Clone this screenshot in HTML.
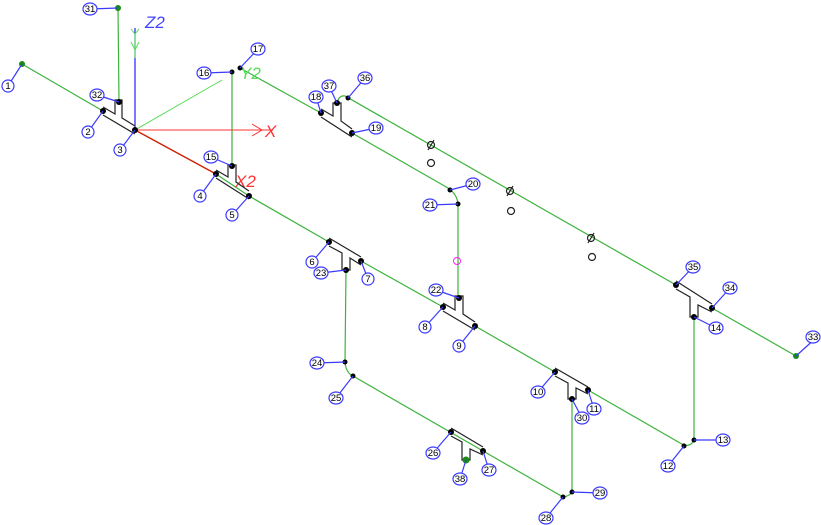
<!DOCTYPE html>
<html><head><meta charset="utf-8"><style>
html,body{margin:0;padding:0;background:#fff;}
svg{display:block;font-family:"Liberation Sans",sans-serif;}
.g{stroke:#3cb33c;stroke-width:1.2;fill:none}
.k{stroke:#222;stroke-width:1.2;fill:none}
.b{stroke:#3a3aff;stroke-width:1.2}
.n{fill:#000}
.lb ellipse{fill:#fff;stroke:#3a3aff;stroke-width:1.2}
.lb text{font-size:9.5px;fill:#000;text-anchor:middle}
</style></head><body>
<svg width="821" height="525" viewBox="0 0 821 525" xmlns="http://www.w3.org/2000/svg">
<polyline class="g" points="22,64 103,111"/>
<polyline class="g" points="216,174 249,196 329,242"/>
<polyline class="g" points="361,261 443,307"/>
<polyline class="g" points="475,326 555,372"/>
<polyline class="g" points="588,390 680,443"/>
<path class="g" d="M680,443 Q690,449 694,440 L694,317"/>
<polyline class="g" points="240,68 321,113"/>
<polyline class="g" points="352,133 448,188"/>
<path class="g" d="M448,188 Q457,194 458,204 L458,298"/>
<path class="g" d="M337,103 Q339,95 345,96 L676,285"/>
<polyline class="g" points="712,308 796,356"/>
<line class="g" x1="118" y1="8" x2="119" y2="102"/>
<line class="g" x1="232" y1="72" x2="232" y2="166"/>
<path class="g" d="M346,270 L345,362 Q346,373 353,376 L563,497"/>
<path class="g" d="M563,497 Q570,496 572,492 L572,399"/>
<line x1="135" y1="130" x2="222" y2="80" stroke="#55dd55" stroke-width="1"/>
<line x1="135" y1="130" x2="135" y2="28" stroke="#2222ff" stroke-width="1.2"/>
<polyline points="131,42 135,50 139,42" stroke="#55dd55" fill="none"/>
<polyline points="131,29 135,34 139,29" stroke="#55dd55" fill="none"/>
<line x1="135" y1="34" x2="135" y2="58" stroke="#55dd55"/>
<line x1="135" y1="130" x2="273" y2="130" stroke="#ff3333" stroke-width="1"/>
<polyline points="252,124 262,130 252,136" stroke="#ff3333" fill="none"/>
<line x1="135" y1="130" x2="216" y2="174" stroke="#cc2200" stroke-width="1.4"/>
<text x="145" y="28" font-size="17" fill="#4444ff" font-style="italic">Z2</text>
<text x="265" y="137" font-size="17" fill="#ff3333" font-style="italic">X</text>
<text x="235" y="187" font-size="17" fill="#ff3333" font-style="italic">X2</text>
<text x="240" y="79" font-size="17" fill="#55dd55" font-style="italic">Y2</text>
<path class="k" d="M103,115 L135,134 M103,107 L115,114 L115,100 L122,100 L122,118 L135,126"/>
<path class="k" d="M216,178 L249,199 M216,170 L228,177 L228,165 L236,165 L236,182 L249,191"/>
<path class="k" d="M329,238 L361,257 M329,246 L342,253 L342,270 L350,270 L350,258 L361,265"/>
<path class="k" d="M443,311 L475,330 M443,303 L455,310 L455,296 L463,296 L463,314 L475,322"/>
<path class="k" d="M555,368 L588,387 M555,376 L568,383 L568,399 L576,399 L576,388 L588,394"/>
<path class="k" d="M451,428 L483,447 M451,436 L462,442 L462,460 L470,460 L470,449 L483,455"/>
<path class="k" d="M676,281 L712,304 M676,289 L690,297 L690,317 L698,317 L698,305 L712,312"/>
<path class="k" d="M321,117 L352,137 M321,109 L333,116 L333,103 L341,103 L341,121 L352,129"/>
<g class="k">
<circle cx="431" cy="145" r="3.5"/><circle cx="431" cy="163" r="3.5"/>
<circle cx="510" cy="191" r="3.5"/><circle cx="511" cy="211" r="3.5"/>
<circle cx="591" cy="238" r="3.5"/><circle cx="592" cy="257" r="3.5"/>
<line x1="428" y1="150" x2="434" y2="140"/><line x1="507" y1="196" x2="513" y2="186"/><line x1="588" y1="243" x2="594" y2="233"/>
</g>
<circle cx="457" cy="261" r="3.5" fill="none" stroke="#ff22ff"/>
<g class="n">
<circle cx="103" cy="111" r="3"/><circle cx="135" cy="130" r="3"/><circle cx="119" cy="102" r="3"/>
<circle cx="216" cy="174" r="3"/><circle cx="249" cy="196" r="3"/><circle cx="232" cy="166" r="3"/>
<circle cx="232" cy="72" r="2.5"/><circle cx="240" cy="68" r="2.5"/>
<circle cx="321" cy="113" r="3"/><circle cx="352" cy="133" r="3"/><circle cx="337" cy="103" r="3"/><circle cx="348" cy="98" r="2.5"/>
<circle cx="450" cy="190" r="2.5"/><circle cx="458" cy="204" r="2.5"/>
<circle cx="329" cy="242" r="3"/><circle cx="361" cy="261" r="3"/><circle cx="346" cy="270" r="3"/>
<circle cx="443" cy="307" r="3"/><circle cx="475" cy="326" r="3"/><circle cx="459" cy="298" r="3"/>
<circle cx="345" cy="362" r="2.5"/><circle cx="353" cy="376" r="2.5"/>
<circle cx="555" cy="372" r="3"/><circle cx="588" cy="390" r="3"/><circle cx="572" cy="399" r="3"/>
<circle cx="451" cy="432" r="3"/><circle cx="483" cy="451" r="3"/>
<circle cx="563" cy="497" r="2.5"/><circle cx="572" cy="492" r="2.5"/>
<circle cx="684" cy="446" r="2.5"/><circle cx="694" cy="440" r="2.5"/>
<circle cx="676" cy="285" r="3"/><circle cx="712" cy="308" r="3"/><circle cx="694" cy="317" r="3"/>
</g>
<g fill="#1a8a1a"><circle cx="466" cy="460" r="3.5"/><circle cx="22" cy="64" r="3"/><circle cx="118" cy="8" r="3"/><circle cx="796" cy="356" r="3"/></g>
<g class="b">
<line x1="22" y1="64" x2="8" y2="86"/><line x1="118" y1="8" x2="90" y2="9"/><line x1="119" y1="102" x2="97" y2="95"/>
<line x1="103" y1="111" x2="88" y2="132"/><line x1="135" y1="130" x2="120" y2="150"/><line x1="232" y1="72" x2="204" y2="73"/>
<line x1="240" y1="68" x2="258" y2="49"/><line x1="232" y1="166" x2="211" y2="157"/><line x1="216" y1="174" x2="200" y2="196"/>
<line x1="249" y1="196" x2="232" y2="215"/><line x1="337" y1="103" x2="329" y2="86"/><line x1="348" y1="98" x2="365" y2="78"/>
<line x1="321" y1="113" x2="316" y2="97"/><line x1="352" y1="133" x2="376" y2="128"/><line x1="450" y1="190" x2="473" y2="184"/>
<line x1="458" y1="204" x2="430" y2="205"/><line x1="329" y1="242" x2="312" y2="262"/><line x1="346" y1="270" x2="321" y2="273"/>
<line x1="361" y1="261" x2="368" y2="279"/><line x1="459" y1="298" x2="436" y2="290"/><line x1="443" y1="307" x2="425" y2="327"/>
<line x1="475" y1="326" x2="459" y2="346"/><line x1="345" y1="362" x2="317" y2="363"/><line x1="353" y1="376" x2="336" y2="398"/>
<line x1="555" y1="372" x2="538" y2="392"/><line x1="588" y1="390" x2="594" y2="409"/><line x1="572" y1="399" x2="582" y2="418"/>
<line x1="451" y1="432" x2="433" y2="453"/><line x1="483" y1="451" x2="489" y2="470"/><line x1="466" y1="460" x2="460" y2="479"/>
<line x1="563" y1="497" x2="546" y2="518"/><line x1="572" y1="492" x2="600" y2="493"/><line x1="684" y1="446" x2="668" y2="466"/>
<line x1="694" y1="440" x2="723" y2="440"/><line x1="694" y1="317" x2="716" y2="328"/><line x1="712" y1="308" x2="730" y2="288"/>
<line x1="676" y1="285" x2="693" y2="267"/><line x1="796" y1="356" x2="817" y2="337"/>
</g>
<g class="lb">
<g><ellipse cx="8" cy="86" rx="6" ry="6"/><text x="8" y="89">1</text></g>
<g><ellipse cx="90" cy="9" rx="7" ry="6"/><text x="90" y="12">31</text></g>
<g><ellipse cx="97" cy="95" rx="7" ry="6"/><text x="97" y="98">32</text></g>
<g><ellipse cx="88" cy="132" rx="6" ry="6"/><text x="88" y="135">2</text></g>
<g><ellipse cx="120" cy="150" rx="6" ry="6"/><text x="120" y="153">3</text></g>
<g><ellipse cx="204" cy="73" rx="7" ry="6"/><text x="204" y="76">16</text></g>
<g><ellipse cx="258" cy="49" rx="7" ry="6"/><text x="258" y="52">17</text></g>
<g><ellipse cx="211" cy="157" rx="7" ry="6"/><text x="211" y="160">15</text></g>
<g><ellipse cx="200" cy="196" rx="6" ry="6"/><text x="200" y="199">4</text></g>
<g><ellipse cx="232" cy="215" rx="6" ry="6"/><text x="232" y="218">5</text></g>
<g><ellipse cx="329" cy="86" rx="7" ry="6"/><text x="329" y="89">37</text></g>
<g><ellipse cx="365" cy="78" rx="7" ry="6"/><text x="365" y="81">36</text></g>
<g><ellipse cx="316" cy="97" rx="7" ry="6"/><text x="316" y="100">18</text></g>
<g><ellipse cx="376" cy="128" rx="7" ry="6"/><text x="376" y="131">19</text></g>
<g><ellipse cx="473" cy="184" rx="7" ry="6"/><text x="473" y="187">20</text></g>
<g><ellipse cx="430" cy="205" rx="7" ry="6"/><text x="430" y="208">21</text></g>
<g><ellipse cx="312" cy="262" rx="6" ry="6"/><text x="312" y="265">6</text></g>
<g><ellipse cx="321" cy="273" rx="7" ry="6"/><text x="321" y="276">23</text></g>
<g><ellipse cx="368" cy="279" rx="6" ry="6"/><text x="368" y="282">7</text></g>
<g><ellipse cx="436" cy="290" rx="7" ry="6"/><text x="436" y="293">22</text></g>
<g><ellipse cx="425" cy="327" rx="6" ry="6"/><text x="425" y="330">8</text></g>
<g><ellipse cx="459" cy="346" rx="6" ry="6"/><text x="459" y="349">9</text></g>
<g><ellipse cx="317" cy="363" rx="7" ry="6"/><text x="317" y="366">24</text></g>
<g><ellipse cx="336" cy="398" rx="7" ry="6"/><text x="336" y="401">25</text></g>
<g><ellipse cx="538" cy="392" rx="7" ry="6"/><text x="538" y="395">10</text></g>
<g><ellipse cx="594" cy="409" rx="7" ry="6"/><text x="594" y="412">11</text></g>
<g><ellipse cx="582" cy="418" rx="7" ry="6"/><text x="582" y="421">30</text></g>
<g><ellipse cx="433" cy="453" rx="7" ry="6"/><text x="433" y="456">26</text></g>
<g><ellipse cx="489" cy="470" rx="7" ry="6"/><text x="489" y="473">27</text></g>
<g><ellipse cx="460" cy="479" rx="7" ry="6"/><text x="460" y="482">38</text></g>
<g><ellipse cx="546" cy="518" rx="7" ry="6"/><text x="546" y="521">28</text></g>
<g><ellipse cx="600" cy="493" rx="7" ry="6"/><text x="600" y="496">29</text></g>
<g><ellipse cx="668" cy="466" rx="7" ry="6"/><text x="668" y="469">12</text></g>
<g><ellipse cx="723" cy="440" rx="7" ry="6"/><text x="723" y="443">13</text></g>
<g><ellipse cx="716" cy="328" rx="7" ry="6"/><text x="716" y="331">14</text></g>
<g><ellipse cx="730" cy="288" rx="7" ry="6"/><text x="730" y="291">34</text></g>
<g><ellipse cx="693" cy="267" rx="7" ry="6"/><text x="693" y="270">35</text></g>
<g><ellipse cx="813" cy="337" rx="7" ry="6"/><text x="813" y="340">33</text></g>
</g>
</svg>
</body></html>
